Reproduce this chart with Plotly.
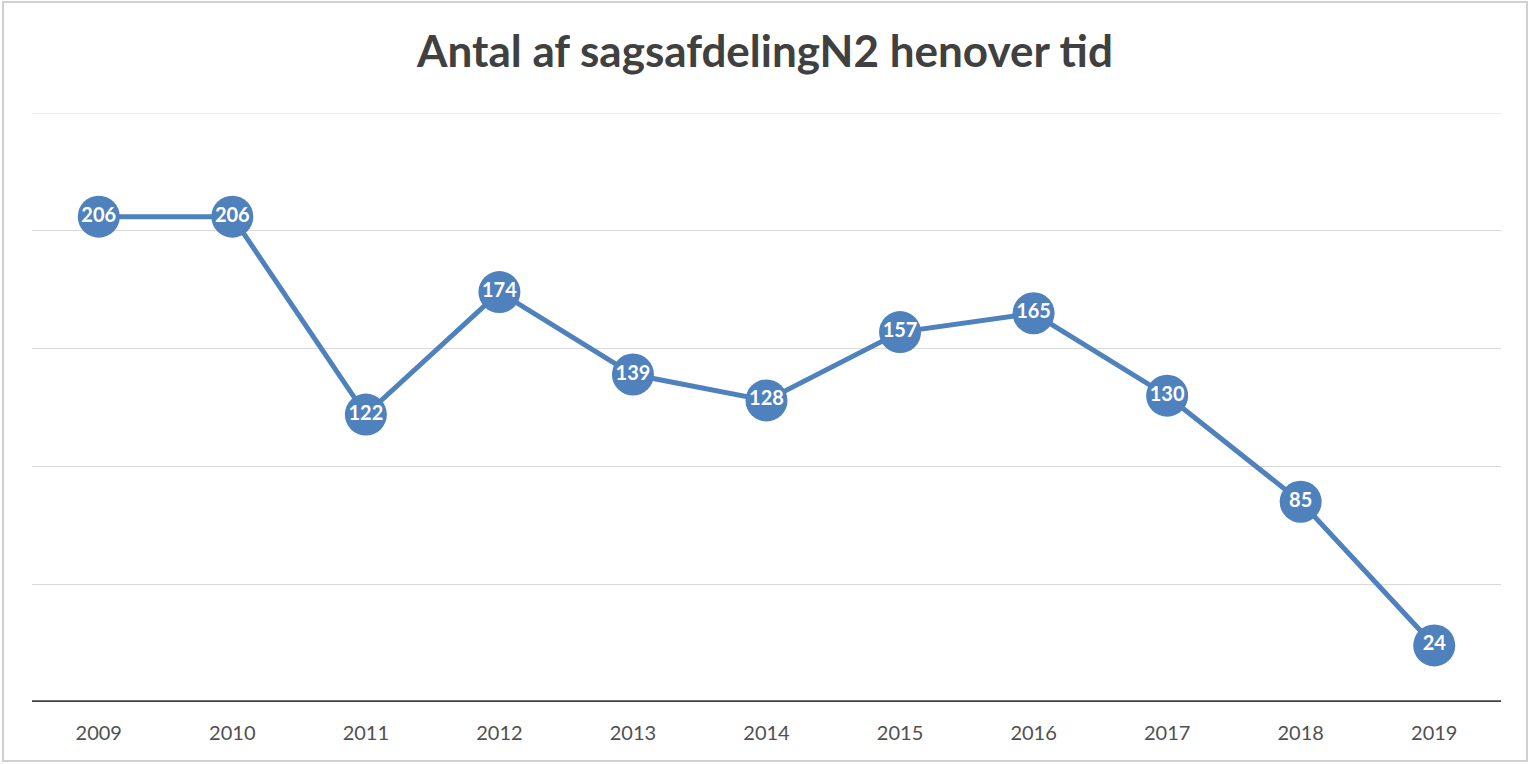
import plotly.graph_objects as go

years = ["2009", "2010", "2011", "2012", "2013", "2014", "2015", "2016", "2017", "2018", "2019"]
values = [206, 206, 122, 174, 139, 128, 157, 165, 130, 85, 24]
title_text = "Antal af sagsafdelingN2 henover tid"

W, H = 1530, 764
L, R, T, B = 32, 29, 113, 62
pw, ph = W - L - R, H - T - B
Y_MAX = 250

fig = go.Figure()
fig.add_trace(go.Scatter(
    x=years, y=values, mode="lines+markers+text",
    line=dict(color="#4F81BD", width=5),
    marker=dict(size=42, color="#4F81BD"),
    text=[str(v) for v in values], textposition="middle center",
    textfont=dict(family="Lato", size=20, color="white", weight="bold"),
    cliponaxis=False, hoverinfo="skip",
))

fig.update_layout(
    width=W, height=H, margin=dict(l=L, r=R, t=T, b=B),
    paper_bgcolor="white", plot_bgcolor="white", showlegend=False,
    title=dict(text="<b>" + title_text + "</b>", x=0.5, xanchor="center",
               y=1 - 52 / H, yanchor="middle",
               font=dict(family="Lato", size=44, color="#404040")),
    xaxis=dict(type="category", range=[-0.5, 10.5], showgrid=False,
               showline=False, zeroline=False, ticks="",
               tickfont=dict(family="Lato", size=20, color="#505050"),
               ticklabelstandoff=17),
    yaxis=dict(range=[0, Y_MAX], dtick=50, showticklabels=False,
               showgrid=True, gridcolor="#D9D9D9", gridwidth=1,
               zeroline=False, showline=False, fixedrange=True),
    shapes=[
        dict(type="line", xref="paper", yref="y", x0=0, x1=1, y0=Y_MAX, y1=Y_MAX,
             line=dict(color="#D9D9D9", width=1), layer="below"),
        dict(type="line", xref="paper", yref="y", x0=0, x1=1, y0=0, y1=0,
             line=dict(color="#404040", width=3.5), layer="above"),
        dict(type="rect", xref="paper", yref="paper",
             x0=(3 - L) / pw, x1=(1527 - L) / pw,
             y0=(H - B - 761) / ph, y1=(H - B - 2) / ph,
             line=dict(color="#D0D0D0", width=2), fillcolor="rgba(0,0,0,0)"),
    ],
)
fig.write_html("out.html", config={"displayModeBar": False},
               post_script="document.body.style.margin='0';document.body.style.overflow='hidden';")
